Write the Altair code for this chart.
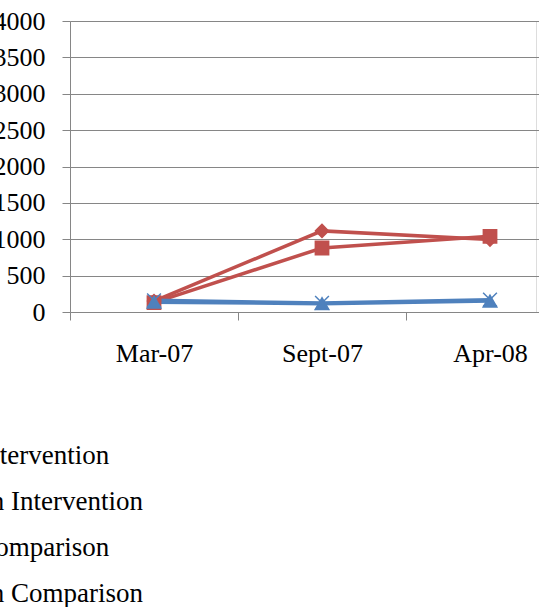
import altair as alt
import pandas as pd

# Survey periods on the x axis
periods = ["Mar-07", "Sept-07", "Apr-08"]

# Series names (legend order)
series_names = [
    "Men Intervention",
    "Women Intervention",
    "Men Comparison",
    "Women Comparison",
]

# Values per series, one per period
men_intervention = [150, 1115, 995]
women_intervention = [130, 880, 1040]
men_comparison = [135, 115, 150]
women_comparison = [160, 125, 170]

# Y axis tick values
y_ticks = [0, 500, 1000, 1500, 2000, 2500, 3000, 3500, 4000]

rows = []
for name, values in zip(
    series_names,
    [men_intervention, women_intervention, men_comparison, women_comparison],
):
    for period, value in zip(periods, values):
        rows.append({"period": period, "series": name, "value": value})
df = pd.DataFrame(rows)

RED = "#C0504D"
BLUE = "#4F81BD"
GRID = "#868686"
FONT = "Liberation Serif"

series_colors = [RED, RED, BLUE, BLUE]
series_shapes = ["diamond", "square", "triangle-up", "M-1,-1L1,1M-1,1L1,-1"]
series_sizes = [170, 190, 380, 330]

x_enc = alt.X(
    "period:N",
    sort=periods,
    scale=alt.Scale(domain=periods, range=[0, 504], paddingInner=0, paddingOuter=0),
    axis=alt.Axis(
        title=None,
        domain=False,
        grid=False,
        tickBand="extent",
        tickSize=8,
        tickColor=GRID,
        tickWidth=1,
        labelAngle=0,
        labelPadding=20,
        labelFont=FONT,
        labelFontSize=26,
        labelColor="black",
    ),
)

y_enc = alt.Y(
    "value:Q",
    scale=alt.Scale(domain=[0, 4000], nice=False),
    axis=alt.Axis(
        title=None,
        values=y_ticks,
        format="d",
        grid=True,
        gridColor=GRID,
        gridWidth=1,
        domainColor=GRID,
        domainWidth=1,
        tickColor=GRID,
        tickSize=8,
        tickWidth=1,
        labelPadding=17,
        labelFont=FONT,
        labelFontSize=26,
        labelColor="black",
    ),
)

color_scale = alt.Scale(domain=series_names, range=series_colors)


def series_legend():
    # Vertical legend below the plot, starting left of the visible canvas
    return alt.Legend(
        title=None,
        orient="none",
        legendX=-181,
        legendY=421,
        direction="vertical",
        padding=0,
        labelFont=FONT,
        labelFontSize=27,
        labelColor="black",
        labelLimit=400,
        labelOffset=5,
        rowPadding=18,
        symbolSize=100,
        symbolStrokeWidth=1.5,
    )


lines = alt.Chart(df).mark_line(strokeWidth=3.5).encode(
    x=x_enc,
    y=y_enc,
    color=alt.Color(
        "series:N", sort=series_names, scale=color_scale, legend=series_legend()
    ),
    order=alt.Order("period_order:Q"),
).transform_calculate(
    period_order="indexof(['Mar-07','Sept-07','Apr-08'], datum.period)"
)

points = alt.Chart(df).mark_point(filled=True, strokeWidth=1.5, opacity=1).encode(
    x=x_enc,
    y=y_enc,
    color=alt.Color(
        "series:N", sort=series_names, scale=color_scale, legend=series_legend()
    ),
    stroke=alt.Stroke("series:N", sort=series_names, scale=color_scale, legend=None),
    shape=alt.Shape(
        "series:N",
        sort=series_names,
        scale=alt.Scale(domain=series_names, range=series_shapes),
        legend=series_legend(),
    ),
    size=alt.Size(
        "series:N",
        sort=series_names,
        scale=alt.Scale(domain=series_names, range=series_sizes),
        legend=None,
    ),
)

chart = (
    alt.layer(lines, points)
    .properties(
        width=466,
        height=291,
        autosize=alt.AutoSizeParams(type="none"),
        padding={"left": 70, "top": 21, "right": 3, "bottom": 295},
    )
    .configure_view(stroke=None)
    .configure(background="white")
)

chart.save("out.html", embed_options={"renderer": "svg", "actions": False})
